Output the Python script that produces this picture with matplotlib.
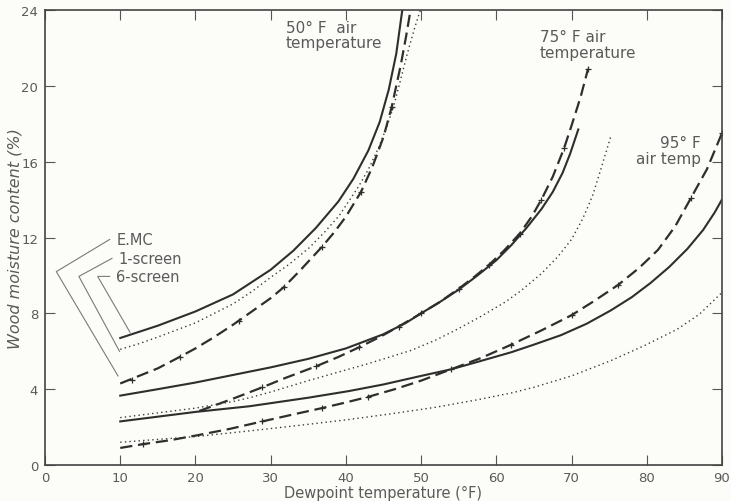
import matplotlib
matplotlib.use('Agg')
import matplotlib.pyplot as plt

# 50 F air temperature
emc50_x = [10, 15, 20, 25, 30, 33, 36, 39, 41, 43, 44.5, 45.7, 46.7, 47.5]
emc50_y = [6.7, 7.35, 8.1, 9.0, 10.3, 11.3, 12.5, 13.9, 15.1, 16.6, 18.1, 19.8, 21.7, 24.0]
one50_x = [10, 12.5, 15, 17.9, 20, 22.5, 25, 27.5, 30, 31.8, 34, 36.8, 38.5, 40, 42,
           43.5, 45, 46.1, 47.3, 48.0, 48.6]
one50_y = [4.3, 4.7, 5.1, 5.7, 6.15, 6.75, 7.4, 8.1, 8.8, 9.4, 10.3, 11.5, 12.3, 13.1, 14.4,
           15.7, 17.3, 18.9, 21.1, 22.6, 24.0]
one50_mx = [11.5, 17.9, 25.8, 31.8, 36.8, 42, 46.1]
one50_my = [4.5, 5.7, 7.6, 9.4, 11.5, 14.4, 18.9]
six50_x = [10, 12.5, 15, 20, 25, 27.5, 30, 32.5, 35.1, 37.2, 39.1, 41.7, 43, 44.3, 45.5,
           46.4, 47.2, 48.1, 49.1, 49.9]
six50_y = [6.1, 6.4, 6.75, 7.5, 8.5, 9.15, 9.9, 10.6, 11.45, 12.3, 13.15, 14.7, 15.6, 16.7, 17.9,
           19.0, 20.2, 21.6, 23.0, 24.0]

# 75 F air temperature
emc75_x = [10, 15, 20, 25, 30, 35, 40, 45, 48, 50, 52.5, 55, 57.5, 60, 62, 64, 66, 67.5,
           68.8, 69.8, 70.9]
emc75_y = [3.66, 4.0, 4.35, 4.75, 5.15, 5.6, 6.15, 6.9, 7.5, 8.0, 8.6, 9.25, 10.0, 10.8, 11.6,
           12.5, 13.5, 14.4, 15.4, 16.4, 17.7]
one75_x = [20.5, 25, 28.9, 32, 36, 39, 41.7, 44.5, 47, 50, 52.5, 55, 57, 59, 61, 63.1, 64.7,
           66, 67.5, 69, 70, 71.2, 72.2]
one75_y = [2.85, 3.5, 4.1, 4.6, 5.2, 5.7, 6.2, 6.75, 7.3, 8.0, 8.6, 9.3, 9.9, 10.55, 11.3,
           12.2, 13.1, 14.0, 15.2, 16.7, 17.9, 19.4, 20.9]
one75_mx = [28.9, 36, 41.7, 47, 50, 55, 59, 63.1, 66, 69, 72.2]
one75_my = [4.1, 5.2, 6.2, 7.3, 8.0, 9.3, 10.55, 12.2, 14.0, 16.7, 20.9]
six75_x = [10, 15, 20, 25, 27.2, 30, 35, 38.1, 43, 48.7, 52, 55, 58, 61.2, 63.3, 66, 68.2,
           70, 71.5, 72.8, 73.9, 75.2]
six75_y = [2.5, 2.75, 3.0, 3.35, 3.55, 3.85, 4.45, 4.8, 5.35, 6.05, 6.6, 7.2, 7.85, 8.6, 9.2,
           10.1, 11.0, 11.9, 13.0, 14.2, 15.6, 17.3]

# 95 F air temperature
emc95_x = [10, 15, 20, 27.2, 35, 40.4, 45, 50, 54, 57.6, 62, 65, 68.6, 72, 75.2, 78, 80.5,
           83, 85.4, 87.5, 89, 90]
emc95_y = [2.3, 2.55, 2.8, 3.1, 3.55, 3.9, 4.25, 4.7, 5.05, 5.45, 5.95, 6.35, 6.85, 7.45, 8.15,
           8.85, 9.6, 10.45, 11.4, 12.4, 13.3, 14.0]
one95_x = [10, 13, 16.5, 20, 24.5, 28.9, 32.8, 36.8, 40, 43, 46.5, 50, 54, 58, 62, 66, 70,
           73, 76.2, 79, 81.5, 83.8, 85.9, 88, 90]
one95_y = [0.9, 1.1, 1.3, 1.55, 1.9, 2.3, 2.65, 3.0, 3.3, 3.6, 4.0, 4.45, 5.05, 5.65, 6.35,
           7.1, 7.9, 8.65, 9.5, 10.4, 11.35, 12.6, 14.1, 15.6, 17.5]
one95_mx = [13, 28.9, 36.8, 43, 54, 62, 70, 76.2, 85.9, 90]
one95_my = [1.1, 2.3, 3.0, 3.6, 5.05, 6.35, 7.9, 9.5, 14.1, 17.5]
six95_x = [10, 15, 20, 27.2, 34, 40.4, 46, 52, 57.6, 62, 65, 70, 75.2, 79.7, 84, 87, 90]
six95_y = [1.2, 1.35, 1.5, 1.8, 2.1, 2.4, 2.7, 3.05, 3.45, 3.8, 4.1, 4.7, 5.5, 6.3, 7.15,
           7.95, 9.1]

xticks = [0, 10, 20, 30, 40, 50, 60, 70, 80, 90]
yticks = [0, 4, 8, 12, 16, 20, 24]

# legend labels with their leader lines
legend_labels = ['E.MC', '1-screen', '6-screen']
legend_text_y = [11.9, 10.9, 9.95]
leader_x = [[8.6, 1.5, 9.7], [8.9, 4.5, 9.9], [8.6, 7.0, 11.3]]
leader_y = [[11.9, 10.2, 4.7], [10.9, 9.95, 6.0], [9.95, 9.95, 7.0]]

LINE = '#2e2e2e'
TEXT = '#5a5a5a'


def main():
    fig = plt.figure(figsize=(7.31, 5.02), dpi=100, facecolor='#fcfcf8')
    ax = fig.add_axes([0.0616, 0.0717, 0.926, 0.9063])
    ax.set_facecolor('#fcfcf8')

    solid = dict(color=LINE, lw=1.5, ls='-')
    dashed = dict(color=LINE, lw=1.6, ls=(0, (5.5, 2.6)))
    dotted = dict(color='#3a3a3a', lw=1.0, ls=(0, (1, 2.3)))
    mk = dict(ls='none', marker='+', ms=5, mew=0.9, color=LINE)

    ax.plot(emc50_x, emc50_y, **solid)
    ax.plot(one50_x, one50_y, **dashed)
    ax.plot(one50_mx, one50_my, **mk)
    ax.plot(six50_x, six50_y, **dotted)

    ax.plot(emc75_x, emc75_y, **solid)
    ax.plot(one75_x, one75_y, **dashed)
    ax.plot(one75_mx, one75_my, **mk)
    ax.plot(six75_x, six75_y, **dotted)

    ax.plot(emc95_x, emc95_y, **solid)
    ax.plot(one95_x, one95_y, **dashed)
    ax.plot(one95_mx, one95_my, **mk)
    ax.plot(six95_x, six95_y, **dotted)

    for lab, ty, lx, ly in zip(legend_labels, legend_text_y, leader_x, leader_y):
        ax.plot(lx, ly, color='#7a7a7a', lw=0.8)
        ax.text(lx[0] + 0.9, ty, lab, ha='left', va='center', fontsize=10.5, color=TEXT)

    ax.text(32.0, 23.5, '50° F  air\ntemperature', ha='left', va='top',
            fontsize=11, color=TEXT, linespacing=1.05)
    ax.text(65.8, 23.0, '75° F air\ntemperature', ha='left', va='top',
            fontsize=11, color=TEXT, linespacing=1.05)
    ax.text(87.2, 17.4, '95° F\nair temp', ha='right', va='top',
            fontsize=11, color=TEXT, linespacing=1.05, multialignment='right')

    ax.set_xlim(0, 90)
    ax.set_ylim(0, 24)
    ax.set_xticks(xticks)
    ax.set_yticks(yticks)
    ax.tick_params(direction='in', length=7, width=0.8, colors='#555555',
                   labelcolor=TEXT, labelsize=9.5, top=True, right=True)
    ax.tick_params(axis='x', pad=4)
    ax.tick_params(axis='y', pad=5)
    for s in ax.spines.values():
        s.set_color('#444444')
        s.set_linewidth(1.2)

    ax.set_xlabel('Dewpoint temperature (°F)', fontsize=10.5, color=TEXT, labelpad=1)
    ax.set_ylabel('Wood moisture content (%)', fontsize=11.5, color=TEXT,
                  style='italic', labelpad=-1)

    fig.savefig('out.png', dpi=100, facecolor=fig.get_facecolor())


if __name__ == '__main__':
    main()
